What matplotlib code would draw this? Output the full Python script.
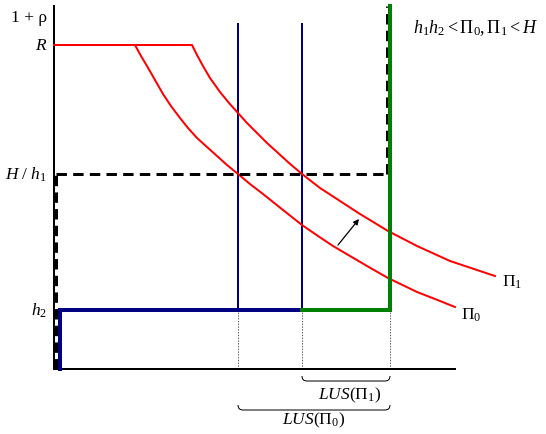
import matplotlib
matplotlib.use("Agg")
import matplotlib.pyplot as plt
from matplotlib.path import Path
from matplotlib.patches import PathPatch

plt.rcParams['font.family'] = ['Liberation Serif', 'DejaVu Serif']
plt.rcParams['mathtext.fontset'] = 'custom'
plt.rcParams['mathtext.rm'] = 'Liberation Serif'
plt.rcParams['mathtext.it'] = 'Liberation Serif:italic'
plt.rcParams['lines.scale_dashes'] = False

# ---- data (diagram units) ----
R = 324
H_over_h1 = 195
h2 = 59
y_top = 363
x_end = 401
x_b0 = 184      # first blue vertical
x_b1 = 248      # second blue vertical
x_g = 336       # green vertical
x_d = 333       # right dashed vertical
blue_top = 345

pi0_x = [0, 81, 87, 93, 101, 109, 117, 126, 134, 143, 153, 163, 173, 184,
         196, 209, 229, 248, 264, 279, 296, 313, 334, 363, 381, 401]
pi0_y = [324, 324, 313, 303, 289, 275, 263, 251, 241, 231, 222, 213, 204, 195,
         185, 175, 159, 144, 133, 123, 113, 103, 91, 77, 70, 62]
pi1_x = [0, 138, 143, 149, 156, 166, 175, 184, 193, 203, 213, 223, 235, 248,
         266, 286, 306, 334, 363, 396, 441]
pi1_y = [324, 324, 314, 303, 291, 277, 266, 256, 246, 236, 226, 217, 206, 195,
         181, 168, 155, 138, 123, 108, 93]

ytick_vals = [352, R, H_over_h1, h2]
ytick_labels = ['1 + ρ', r'$R$', r'$H\ /\ h_1$', r'$h_2$']

fig = plt.figure(figsize=(5.46, 4.35), dpi=100)
ax = fig.add_axes([0, 0, 1, 1])
ax.set_xlim(-54, 492)
ax.set_ylim(-65, 370)
ax.axis('off')

px = 0.72  # points per pixel

# axes lines
ax.plot([0, 0], [0, y_top], color='black', lw=2 * px, zorder=3)
ax.plot([0, x_end], [0, 0], color='black', lw=2 * px, zorder=3)

# red curves
ax.plot(pi0_x, pi0_y, color='red', lw=2 * px, zorder=4, solid_joinstyle='round')
ax.plot(pi1_x, pi1_y, color='red', lw=2 * px, zorder=4, solid_joinstyle='round')

# thin blue verticals
for xv in (x_b0, x_b1):
    ax.plot([xv, xv], [h2, blue_top], color='#000080', lw=2 * px, zorder=3)

# thick blue L
ax.plot([6, 6, x_b1], [0, h2, h2], color='#000080', lw=4 * px,
        solid_joinstyle='miter', zorder=5)
# thick green L
ax.plot([x_b1, x_g, x_g], [h2, h2, y_top], color='#008000', lw=4 * px,
        solid_joinstyle='miter', zorder=5)

# dashed black lines
dash = (7.5, 4.5)
ax.plot([2, 2], [0, H_over_h1], color='black', lw=3 * px, dashes=dash, zorder=4)
ax.plot([2, x_d], [H_over_h1, H_over_h1], color='black', lw=3 * px, dashes=dash, zorder=4)
ax.plot([x_d, x_d], [H_over_h1, y_top], color='black', lw=3 * px, dashes=dash, zorder=4)

# dotted drop lines
for xv in (x_b0, x_b1, x_g):
    ax.plot([xv, xv], [0, h2], color='#333333', lw=0.8 * px, ls=(0, (1, 1)), zorder=2)

# arrow
ax.annotate('', xy=(305, 150), xytext=(284, 124),
            arrowprops=dict(arrowstyle='-|>', color='black', lw=0.9,
                            mutation_scale=8, shrinkA=0, shrinkB=0))

# braces
def brace(x0, x1, ytop, ybot):
    r = 5
    verts = [(x0, ytop), (x0, ybot), (x0 + r, ybot), (x1 - r, ybot),
             (x1, ybot), (x1, ytop)]
    codes = [Path.MOVETO, Path.CURVE3, Path.CURVE3, Path.LINETO,
             Path.CURVE3, Path.CURVE3]
    ax.add_patch(PathPatch(Path(verts, codes), fill=False, color='black',
                           lw=1 * px, zorder=3))

brace(x_b1, x_g, -7, -12)
brace(x_b0, x_g, -36, -41)

fs = 12.5
ax.text(296, -25, r'$LUS(\Pi_1)$', ha='center', va='center', fontsize=fs)
ax.text(260, -50, r'$LUS(\Pi_0)$', ha='center', va='center', fontsize=fs)

# y labels
for v, lab in zip(ytick_vals, ytick_labels):
    ax.text(-7, v, lab, ha='right', va='center', fontsize=fs)

# curve labels
ax.text(448, 88, r'$\Pi_1$', ha='left', va='center', fontsize=fs)
ax.text(407, 55, r'$\Pi_0$', ha='left', va='center', fontsize=fs)

ax.text(359, 342, r'$h_1h_2 < \Pi_0, \Pi_1 < H$', ha='left', va='center', fontsize=13)

fig.savefig('out.png', dpi=100)
